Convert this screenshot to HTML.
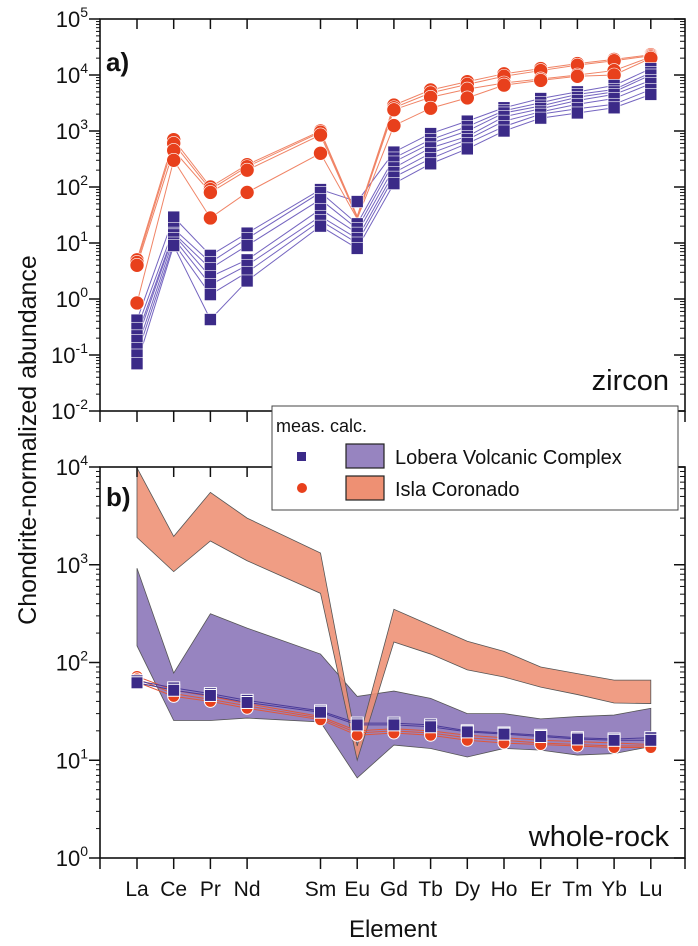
<!DOCTYPE html>
<html><head><meta charset="utf-8">
<style>
html,body{margin:0;padding:0;background:#fff;}
svg{display:block;font-family:"Liberation Sans",Arial,sans-serif;}
</style></head>
<body>
<svg id="chart" width="698" height="946" viewBox="0 0 698 946" xmlns="http://www.w3.org/2000/svg">
<g id="bands"></g>
<g id="lines"></g>
<g id="marks"></g>
<g id="axes"></g>
</svg>
<script>
const elements = ["La","Ce","Pr","Nd","Sm","Eu","Gd","Tb","Dy","Ho","Er","Tm","Yb","Lu"];
const elementIndex = [0,1,2,3,5,6,7,8,9,10,11,12,13,14];
// Panel a: zircon, Lobera Volcanic Complex (blue squares)
const zirconLobera = [
 [0.42,29,6,15,90,55,420,900,1500,2600,3800,5000,6500,13000],
 [0.3,18,4.5,12,80,22,330,700,1200,2300,3200,4500,5500,11000],
 [0.22,15,3.5,9,60,18,280,600,1000,2100,2800,4000,5000,10000],
 [0.18,14,2.5,5,40,15,220,500,800,1800,2500,3500,4500,8000],
 [0.13,12,1.8,4,30,12,180,400,700,1500,2200,3000,3800,7000],
 [0.1,10,1.2,3,25,10,150,320,600,1200,2000,2500,3000,5500],
 [0.07,9,0.43,2.1,20,8,115,260,480,1000,1700,2100,2600,4500]
];
// Panel a: zircon, Isla Coronado (orange circles)
const zirconIsla = [
 [5,700,100,250,1000,30,2900,5400,7600,10500,13000,16000,19000,23000],
 [4.5,600,90,230,950,29,2600,4800,6800,9500,12000,15000,18000,22000],
 [4,450,80,200,850,28,2400,4000,5600,7200,8500,10000,12000,21000],
 [0.85,300,28,80,400,27,1250,2550,3900,6600,8000,9500,10000,20000]
];
// Panel b: whole-rock calculated ranges
const loberaUpper = [920,78,315,225,122,45,51,43,30,30,26.5,28,29,34];
const loberaLower = [148,25.5,25.5,27,24.6,6.6,14.3,13.2,10.8,13.2,12.7,11.3,11.7,13.8];
const islaUpper = [9800,1950,5500,3000,1320,14,350,240,165,130,90,77,66,66];
const islaLower = [1900,850,1750,1100,510,10,162,122,84,71,56,47,38.5,38];
// Panel b: whole-rock measured
const wrLobera = [
 [65,55,48,41,32,24,24,23,20,19,18,17,16.5,17],
 [62,52,46,39,31,23,23,22,19.5,18.5,17.5,16.5,16,16]
];
const wrIsla = [
 [72,52,45,38,28,20,21,20,18,17,16,15.5,15,14.5],
 [68,48,42,36,27,19,20,19,17,16,15,14.5,14,14],
 [63,45,40,34,26,18,19,18,16,15,14.5,14,13.5,13.5]
];
const ticksA = [-2,-1,0,1,2,3,4,5];
const ticksB = [0,1,2,3,4];

const NS="http://www.w3.org/2000/svg";
const X0=100, X1=685;
const A={top:19,bot:411,min:-2,max:5};
const B={top:467,bot:858,min:0,max:4};
function x(i){return 137+36.7*elementIndex[i];}
function yA(v){return A.bot-(Math.log10(v)-A.min)*(A.bot-A.top)/(A.max-A.min);}
function yB(v){return B.bot-(Math.log10(v)-B.min)*(B.bot-B.top)/(B.max-B.min);}
function mk(tag,attrs,parent){const e=document.createElementNS(NS,tag);for(const k in attrs)e.setAttribute(k,attrs[k]);parent.appendChild(e);return e;}
const gB=document.getElementById('bands'),gL=document.getElementById('lines'),gM=document.getElementById('marks'),gX=document.getElementById('axes');
const BLUE="#3b2a88", ORANGE="#e8401c";

// Panel a lines & markers
zirconLobera.forEach((s,k)=>{
 const p=mk('polyline',{points:s.map((v,i)=>x(i)+','+yA(v)).join(' '),fill:'none',stroke:'#7565c0','stroke-width':1},gL);
 
 
});
zirconIsla.forEach((s,k)=>{
 const p=mk('polyline',{points:s.map((v,i)=>x(i)+','+yA(v)).join(' '),fill:'none',stroke:'#f08466','stroke-width':1},gL);
 
 
});
zirconIsla.forEach((s,k)=>s.forEach((v,i)=>{
 if(elements[i]==='Eu') return;
 const c=mk('circle',{cx:x(i),cy:yA(v),r:7,fill:ORANGE,stroke:'#fff','stroke-width':0.6},gM);
 
 
}));
zirconLobera.forEach((s,k)=>s.forEach((v,i)=>{
 const r=mk('rect',{x:x(i)-6,y:yA(v)-6,width:12,height:12,fill:BLUE,stroke:'#fff','stroke-width':0.6},gM);
 
 
}));

// Panel b bands
function band(up,lo,fill,op,name){
 const pts=up.map((v,i)=>x(i)+','+yB(v)).concat(lo.map((v,i)=>x(i)+','+yB(v)).reverse()).join(' ');
 const p=mk('polygon',{points:pts,fill:fill,'fill-opacity':op,stroke:'#555','stroke-width':0.8},gB);
 
 
}
band(loberaUpper,loberaLower,'#9784c0',1,'lobera-band');
band(islaUpper,islaLower,'#ee9073',0.88,'isla-band');

wrIsla.forEach((s,k)=>{
 const p=mk('polyline',{points:s.map((v,i)=>x(i)+','+yB(v)).join(' '),fill:'none',stroke:'#e0583a','stroke-width':1},gL);
 
 
});
wrLobera.forEach((s,k)=>{
 const p=mk('polyline',{points:s.map((v,i)=>x(i)+','+yB(v)).join(' '),fill:'none',stroke:'#4a3a98','stroke-width':1},gL);
 
 
});
wrIsla.forEach((s,k)=>s.forEach((v,i)=>{
 const c=mk('circle',{cx:x(i),cy:yB(v),r:6,fill:ORANGE,stroke:'#fff','stroke-width':1},gM);
 
 
}));
wrLobera.forEach((s,k)=>s.forEach((v,i)=>{
 const r=mk('rect',{x:x(i)-6,y:yB(v)-6,width:12,height:12,fill:BLUE,stroke:'#fff','stroke-width':1},gM);
 
 
}));

// Axes
function frame(P,name,ticks,yf){
 const r=mk('rect',{x:X0,y:P.top,width:X1-X0,height:P.bot-P.top,fill:'none',stroke:'#111','stroke-width':1.6},gX);
 
 
 elements.forEach((e,i)=>{
  mk('line',{x1:x(i),x2:x(i),y1:P.top,y2:P.top+10,stroke:'#111','stroke-width':1.5},gX);
  mk('line',{x1:x(i),x2:x(i),y1:P.bot,y2:P.bot+11,stroke:'#111','stroke-width':1.5},gX);
 });
 mk('line',{x1:X0,x2:X0,y1:P.bot,y2:P.bot+11,stroke:'#111','stroke-width':1.5},gX);
 mk('line',{x1:X1,x2:X1,y1:P.bot,y2:P.bot+11,stroke:'#111','stroke-width':1.5},gX);
 ticks.forEach((t,j)=>{
  const y=yf(Math.pow(10,t));
  mk('line',{x1:X0-11,x2:X0,y1:y,y2:y,stroke:'#111','stroke-width':1.5},gX);
  mk('line',{x1:X1-11,x2:X1,y1:y,y2:y,stroke:'#111','stroke-width':1.5},gX);
  const tx=mk('text',{x:88,y:y+8,'text-anchor':'end','font-size':22,fill:'#111'},gX);
  
  
  tx.textContent='10';
  const sp=mk('tspan',{dy:-10,'font-size':14},tx);sp.textContent=String(t);
  const spacer=mk('tspan',{dy:10,'font-size':1},tx);spacer.textContent=' ';
  if(j<ticks.length-1){
   for(let m=2;m<10;m++){
    const ym=yf(m*Math.pow(10,t));
    mk('line',{x1:X0-4,x2:X0,y1:ym,y2:ym,stroke:'#111','stroke-width':1},gX);
    mk('line',{x1:X1-5,x2:X1,y1:ym,y2:ym,stroke:'#111','stroke-width':1},gX);
   }
  }
 });
}
frame(A,'panel-a',ticksA,yA);
frame(B,'panel-b',ticksB,yB);

elements.forEach((e,i)=>{
 const t=mk('text',{x:x(i),y:896,'text-anchor':'middle','font-size':21,fill:'#111'},gX);
 
 
 t.textContent=e;
});
</script>
<svg style="position:absolute;left:0;top:0" width="698" height="946">
 <text x="106" y="71" font-size="26" font-weight="bold" fill="#111">a)</text>
 <text x="106" y="506" font-size="26" font-weight="bold" fill="#111">b)</text>
 <text x="669" y="390" text-anchor="end" font-size="29" fill="#111">zircon</text>
 <text x="669" y="846" text-anchor="end" font-size="29" fill="#111">whole-rock</text>
 <text transform="translate(36,440) rotate(-90)" text-anchor="middle" font-size="25" fill="#111">Chondrite-normalized abundance</text>
 <text x="393" y="937" text-anchor="middle" font-size="24" fill="#111">Element</text>
 <g>
  <rect x="272" y="406" width="406" height="104" fill="#fff" stroke="#444" stroke-width="1"/>
  <text x="276" y="432" font-size="18" fill="#111">meas. calc.</text>
  <rect x="297" y="452" width="9" height="9" fill="#3b2a88"/>
  <rect x="346" y="444" width="38" height="24" fill="#9784c0" stroke="#222" stroke-width="1.2"/>
  <text x="395" y="464" font-size="20" fill="#111">Lobera Volcanic Complex</text>
  <circle cx="302" cy="488" r="5" fill="#e8401c"/>
  <rect x="346" y="476" width="38" height="24" fill="#ee9073" stroke="#222" stroke-width="1.2"/>
  <text x="395" y="496" font-size="20" fill="#111">Isla Coronado</text>
 </g>
</svg>
</body></html>
